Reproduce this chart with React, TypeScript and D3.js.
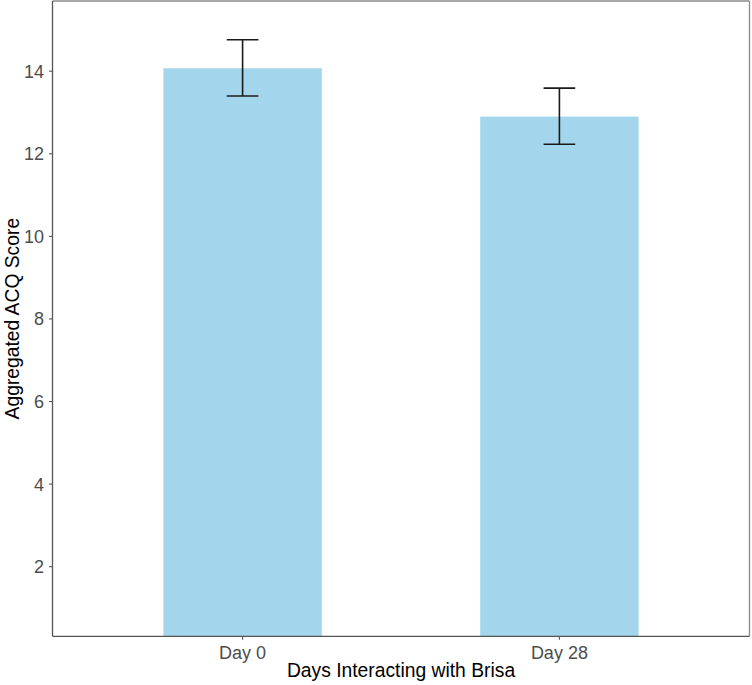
import React from "react";
import * as d3 from "d3";

const categories = ["Day 0", "Day 28"];
const means = [14.07, 12.9];
const errLow = [13.4, 12.23];
const errHigh = [14.76, 13.59];
const yTicks = [2, 4, 6, 8, 10, 12, 14];

const W = 752;
const H = 685;
const L = 52.5;
const R = 749.5;
const T = 1;
const B = 636.3;

export default function App() {
  const y = d3.scaleLinear().domain([0.314, 15.7]).range([B, T]);
  // discrete scale with ggplot-like expansion of 0.6
  const x = d3.scaleLinear().domain([0.4, categories.length + 0.6]).range([L, R]);
  const barW = 0.5;
  const errW = 0.1;
  const font = "'Liberation Sans', Arial, sans-serif";
  return (
    <svg width={W} height={H} style={{ position: "absolute", left: 0, top: 0 }} fontFamily={font}>
      <rect x={0} y={0} width={W} height={H} fill="#fff" />
      <defs>
        <clipPath id="panel">
          <rect x={L} y={T} width={R - L} height={B - T} />
        </clipPath>
      </defs>
      <g clipPath="url(#panel)">
        {categories.map((c, i) => (
          <rect
            key={c}
            x={x(i + 1 - barW / 2)}
            width={x(i + 1 + barW / 2) - x(i + 1 - barW / 2)}
            y={y(means[i])}
            height={y(0) - y(means[i])}
            fill="#a3d5ec"
          />
        ))}
        {categories.map((c, i) => (
          <g key={c + "e"} stroke="#1a1a1a" strokeWidth={1.6} fill="none">
            <line x1={x(i + 1)} x2={x(i + 1)} y1={y(errLow[i])} y2={y(errHigh[i])} />
            <line x1={x(i + 1 - errW / 2)} x2={x(i + 1 + errW / 2)} y1={y(errLow[i])} y2={y(errLow[i])} />
            <line x1={x(i + 1 - errW / 2)} x2={x(i + 1 + errW / 2)} y1={y(errHigh[i])} y2={y(errHigh[i])} />
          </g>
        ))}
      </g>
      {/* panel border top/right */}
      <line x1={L} x2={R} y1={T} y2={T} stroke="#8a8a8a" strokeWidth={1.3} />
      <line x1={R} x2={R} y1={T} y2={B} stroke="#8a8a8a" strokeWidth={1.3} />
      {/* axis lines */}
      <line x1={L} x2={L} y1={T} y2={B} stroke="#555" strokeWidth={1.3} />
      <line x1={L} x2={R} y1={B} y2={B} stroke="#555" strokeWidth={1.3} />
      {yTicks.map((t) => (
        <g key={t}>
          <line x1={L - 3.5} x2={L} y1={y(t)} y2={y(t)} stroke="#555" strokeWidth={1.1} />
          <text x={L - 8.5} y={y(t)} dy="0.36em" textAnchor="end" fontSize={18} fill="#4d4d4d">
            {t}
          </text>
        </g>
      ))}
      {categories.map((c, i) => (
        <g key={c + "t"}>
          <line x1={x(i + 1)} x2={x(i + 1)} y1={B} y2={B + 3.5} stroke="#555" strokeWidth={1.1} />
          <text x={x(i + 1)} y={659} textAnchor="middle" fontSize={18} fill="#4d4d4d">
            {c}
          </text>
        </g>
      ))}
      <text x={(L + R) / 2} y={677} textAnchor="middle" fontSize={19.3} fill="#000">
        Days Interacting with Brisa
      </text>
      <text
        transform={`translate(19,${(T + B) / 2}) rotate(-90)`}
        textAnchor="middle"
        fontSize={19.3}
        fill="#000"
      >
        Aggregated ACQ Score
      </text>
    </svg>
  );
}
